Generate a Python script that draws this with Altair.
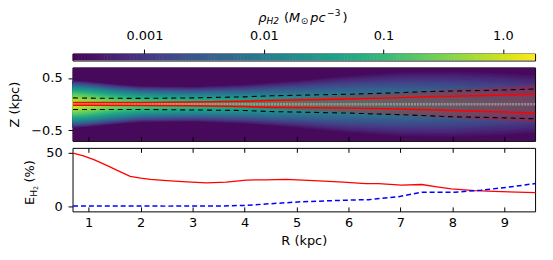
import altair as alt
import numpy as np
import pandas as pd

FONT = "DejaVu Sans"
FS = 13
SUB = 9.1

# ---------------- values ----------------
cb_min, cb_max = 2.5e-4, 1.86
cb_ticks = [0.001, 0.01, 0.1, 1.0]

# density field: midplane log10(rho), half-thickness where it fades out, profile shape
prof_R = [0.7, 1.0, 1.5, 2.0, 3.0, 4.0, 5.0, 6.0, 7.0, 8.0, 9.0, 9.6]
prof_logmid = [0.1, -0.1, -0.4, -0.6, -0.85, -1.05, -1.3, -1.5, -1.7, -1.9, -2.1, -2.2]
prof_edge = [0.46, 0.44, 0.39, 0.35, 0.34, 0.38, 0.46, 0.56, 0.63, 0.65, 0.62, 0.58]
prof_shape = [1.8, 1.8, 1.7, 1.6, 1.5, 1.4, 1.3, 1.2, 1.2, 1.2, 1.2, 1.2]

line_R = [0.7, 1.0, 2.0, 3.0, 4.0, 4.5, 5.0, 6.0, 7.0, 7.5, 8.0, 9.0, 9.6]
dash_up = [0.12, 0.115, 0.11, 0.12, 0.14, 0.16, 0.17, 0.19, 0.22, 0.24, 0.25, 0.27, 0.29]
dash_lo = [-0.10, -0.10, -0.10, -0.11, -0.12, -0.14, -0.15, -0.17, -0.20, -0.22, -0.24, -0.26, -0.28]
red_up = [0.03, 0.03, 0.03, 0.04, 0.055, 0.07, 0.08, 0.10, 0.125, 0.14, 0.15, 0.175, 0.19]
red_lo = [-0.02, -0.02, -0.025, -0.03, -0.045, -0.06, -0.065, -0.075, -0.09, -0.105, -0.12, -0.15, -0.17]
fill_up = [0.04, 0.04, 0.04, 0.05, 0.08, 0.10, 0.12, 0.17, 0.22, 0.25, 0.28, 0.33, 0.37]
fill_lo = [-0.03, -0.03, -0.035, -0.045, -0.07, -0.09, -0.11, -0.16, -0.21, -0.24, -0.27, -0.32, -0.35]

e_R = [0.7, 0.9, 1.1, 1.23, 1.4, 1.55, 1.8, 2.0, 2.19, 2.5, 2.89, 3.27, 3.65, 4.03,
       4.4, 4.8, 5.43, 5.9, 6.33, 6.58, 7.02, 7.41, 7.7, 7.98, 8.43, 8.94, 9.6]
e_red = [49.5, 47.0, 43.5, 40.6, 37.0, 33.4, 27.8, 26.2, 25.0, 24.0, 22.8, 21.9, 22.5, 24.4,
         24.7, 25.0, 23.7, 22.5, 21.2, 21.2, 19.7, 20.3, 18.2, 16.2, 14.6, 13.7, 12.8]
b_R = [0.7, 1.5, 2.5, 3.5, 4.03, 4.45, 5.11, 6.07, 6.39, 6.96, 7.41, 8.04, 8.55, 9.07, 9.6]
b_val = [0.3, 0.3, 0.2, 0.3, 0.9, 2.3, 4.3, 5.9, 6.2, 9.0, 13.1, 13.1, 15.0, 17.8, 21.2]

# ---------------- tables ----------------
# density drawn as nested filled bands, one per colour level of the colorbar
lmin, lmax = np.log10(cb_min), np.log10(cb_max)
NLEV = 51
levels = np.linspace(lmin, lmax, NLEV)
band_names = [f"b{k:02d}" for k in range(NLEV)]
Rg = np.linspace(0.69, 9.59, 90)
lm_g = np.interp(Rg, prof_R, prof_logmid)
w_g = np.interp(Rg, prof_R, prof_edge)
p_g = np.interp(Rg, prof_R, prof_shape)
rows = []
for k, Lk in enumerate(levels):
    for r, lm, w, p in zip(Rg, lm_g, w_g, p_g):
        if k == 0:
            z = 0.7
        elif lm > Lk:
            z = w * ((lm - Lk) / (lm - lmin)) ** (1 / p)
        else:
            z = 0.0
        rows.append((r, -z, z, band_names[k]))
hm_df = pd.DataFrame(rows, columns=["R", "lo", "hi", "band"])

lines_df = pd.DataFrame({"R": line_R, "dash_up": dash_up, "dash_lo": dash_lo,
                         "red_up": red_up, "red_lo": red_lo,
                         "fill_up": fill_up, "fill_lo": fill_lo})
e_df = pd.DataFrame({"R": e_R, "E": e_red})
b_df = pd.DataFrame({"R": b_R, "E": b_val})

cb_edges = np.logspace(lmin, lmax, 161)
cb_df = pd.DataFrame({"lo": cb_edges[:-1], "hi": cb_edges[1:] * 1.01,
                      "mid": np.sqrt(cb_edges[:-1] * cb_edges[1:])})

# ---------------- scales ----------------
W = 466
x_scale = alt.Scale(domain=[0.69, 9.59], nice=False, zero=False)
z_scale = alt.Scale(domain=[-0.7, 0.7], nice=False, zero=False)
e_scale = alt.Scale(domain=[-4.7, 54.4], nice=False, zero=False)


def txt(s, x, y, size=FS, italic=False, angle=0):
    return alt.Chart(alt.Data(values=[{}])).mark_text(
        text=s, font=FONT, fontSize=size, fontStyle="italic" if italic else "normal",
        align="left", baseline="alphabetic", angle=angle, color="black"
    ).encode(x=alt.value(x), y=alt.value(y))


# ---------------- colorbar ----------------
cb_rect = alt.Chart(cb_df).mark_rect(clip=True, opacity=1).encode(
    x=alt.X("lo:Q", scale=alt.Scale(type="log", domain=[cb_min, cb_max], nice=False),
            axis=alt.Axis(orient="top", values=cb_ticks, format=".3~f",
                          labelExpr="datum.value >= 1 ? '1.0' : datum.label",
                          tickSize=4.5, labelPadding=7, domain=False, grid=False, title=None)),
    x2="hi:Q",
    color=alt.Color("mid:Q", scale=alt.Scale(type="log", domain=[cb_min, cb_max],
                                             scheme="viridis", clamp=True), legend=None),
)
by = -32.2
title_parts = [
    txt("ρ", 187, by, FS, True),
    txt("H2", 195.5, by + 2.8, SUB, True),
    txt("(", 213, by, FS),
    txt("M", 218, by, FS, True),
    txt("⊙", 230, by + 2.8, SUB),
    txt("pc", 239.5, by, FS, True),
    txt("−3", 256.5, by - 5.2, SUB),
    txt(")", 272, by, FS),
]
colorbar = alt.layer(cb_rect, *title_parts).properties(width=W, height=7)

# ---------------- heatmap panel ----------------
hm = alt.Chart(hm_df).mark_area(opacity=1, clip=True).encode(
    x=alt.X("R:Q", scale=x_scale,
            axis=alt.Axis(orient="bottom", values=list(range(1, 10)), labels=False,
                          offset=-4.5, tickSize=4.5, domain=False, grid=False,
                          title=None, zindex=2)),
    y=alt.Y("lo:Q", scale=z_scale,
            axis=alt.Axis(values=[-0.5, 0.0, 0.5], format=".1f", tickSize=4.5,
                          labelPadding=6, domain=False, grid=False,
                          title="Z (kpc)", titlePadding=9)),
    y2="hi:Q",
    color=alt.Color("band:N", scale=alt.Scale(domain=band_names, scheme="viridis"),
                    legend=None),
)
base = alt.Chart(lines_df)
fill = base.mark_area(color="red", opacity=0.3, clip=True).encode(
    x=alt.X("R:Q", scale=x_scale),
    y=alt.Y("fill_up:Q", scale=z_scale), y2="fill_lo:Q")
zero = alt.Chart(alt.Data(values=[{}])).mark_rule(
    color="#b8b8b8", strokeWidth=2.5, opacity=0.6, strokeDash=[2, 1]
).encode(y=alt.datum(0, scale=z_scale))


def zline(col, color, dash=None, width=1.5):
    kw = dict(color=color, strokeWidth=width, clip=True)
    if dash:
        kw["strokeDash"] = dash
    return base.mark_line(**kw).encode(
        x=alt.X("R:Q", scale=x_scale),
        y=alt.Y(f"{col}:Q", scale=z_scale))


heat = alt.layer(
    hm, fill, zero,
    zline("red_up", "red"), zline("red_lo", "red"),
    zline("dash_up", "black", [5, 4], 1.1), zline("dash_lo", "black", [5, 4], 1.1),
).properties(width=W, height=74)

# ---------------- efficiency panel ----------------
red_line = alt.Chart(e_df).mark_line(color="red", strokeWidth=1.3).encode(
    x=alt.X("R:Q", scale=x_scale,
            axis=alt.Axis(orient="bottom", values=list(range(1, 10)), offset=-4.5,
                          tickSize=4.5, labelPadding=5, domain=False, grid=False,
                          title="R (kpc)", titlePadding=5, zindex=2)),
    y=alt.Y("E:Q", scale=e_scale,
            axis=alt.Axis(values=[0, 25, 50], tickSize=4.5, labelPadding=6,
                          domain=False, grid=False, title=None)),
)
blue_line = alt.Chart(b_df).mark_line(color="blue", strokeWidth=1.5, strokeDash=[5, 3]).encode(
    x=alt.X("R:Q", scale=x_scale,
            axis=alt.Axis(orient="top", values=list(range(1, 10)), labels=False,
                          offset=-4.5, tickSize=4.5, domain=False, grid=False,
                          title=None, zindex=2)),
    y=alt.Y("E:Q", scale=e_scale),
)
ex = -38.7
e_title = [
    txt("E", ex, 57.5, FS, False, 270),
    txt("H", ex + 2.6, 49.3, SUB, False, 270),
    txt("2", ex + 4.2, 42.5, 6.4, False, 270),
    txt("(%)", ex, 35.0, FS, False, 270),
]
eff = alt.layer(red_line, blue_line, *e_title).resolve_axis(x="independent").properties(
    width=W, height=64)

chart = alt.vconcat(colorbar, heat, eff, spacing=7, bounds="flush").resolve_scale(
    x="independent", color="independent"
).properties(
    padding={"left": 0, "top": 0, "right": 5, "bottom": 2},
    background="white",
).configure_view(stroke="black", strokeWidth=1).configure_axis(
    labelFont=FONT, labelFontSize=FS, labelColor="black",
    titleFont=FONT, titleFontSize=FS, titleFontWeight="normal", titleColor="black",
    tickColor="black", tickWidth=1,
)

chart.save("out.html", embed_options={"renderer": "svg", "actions": False})
